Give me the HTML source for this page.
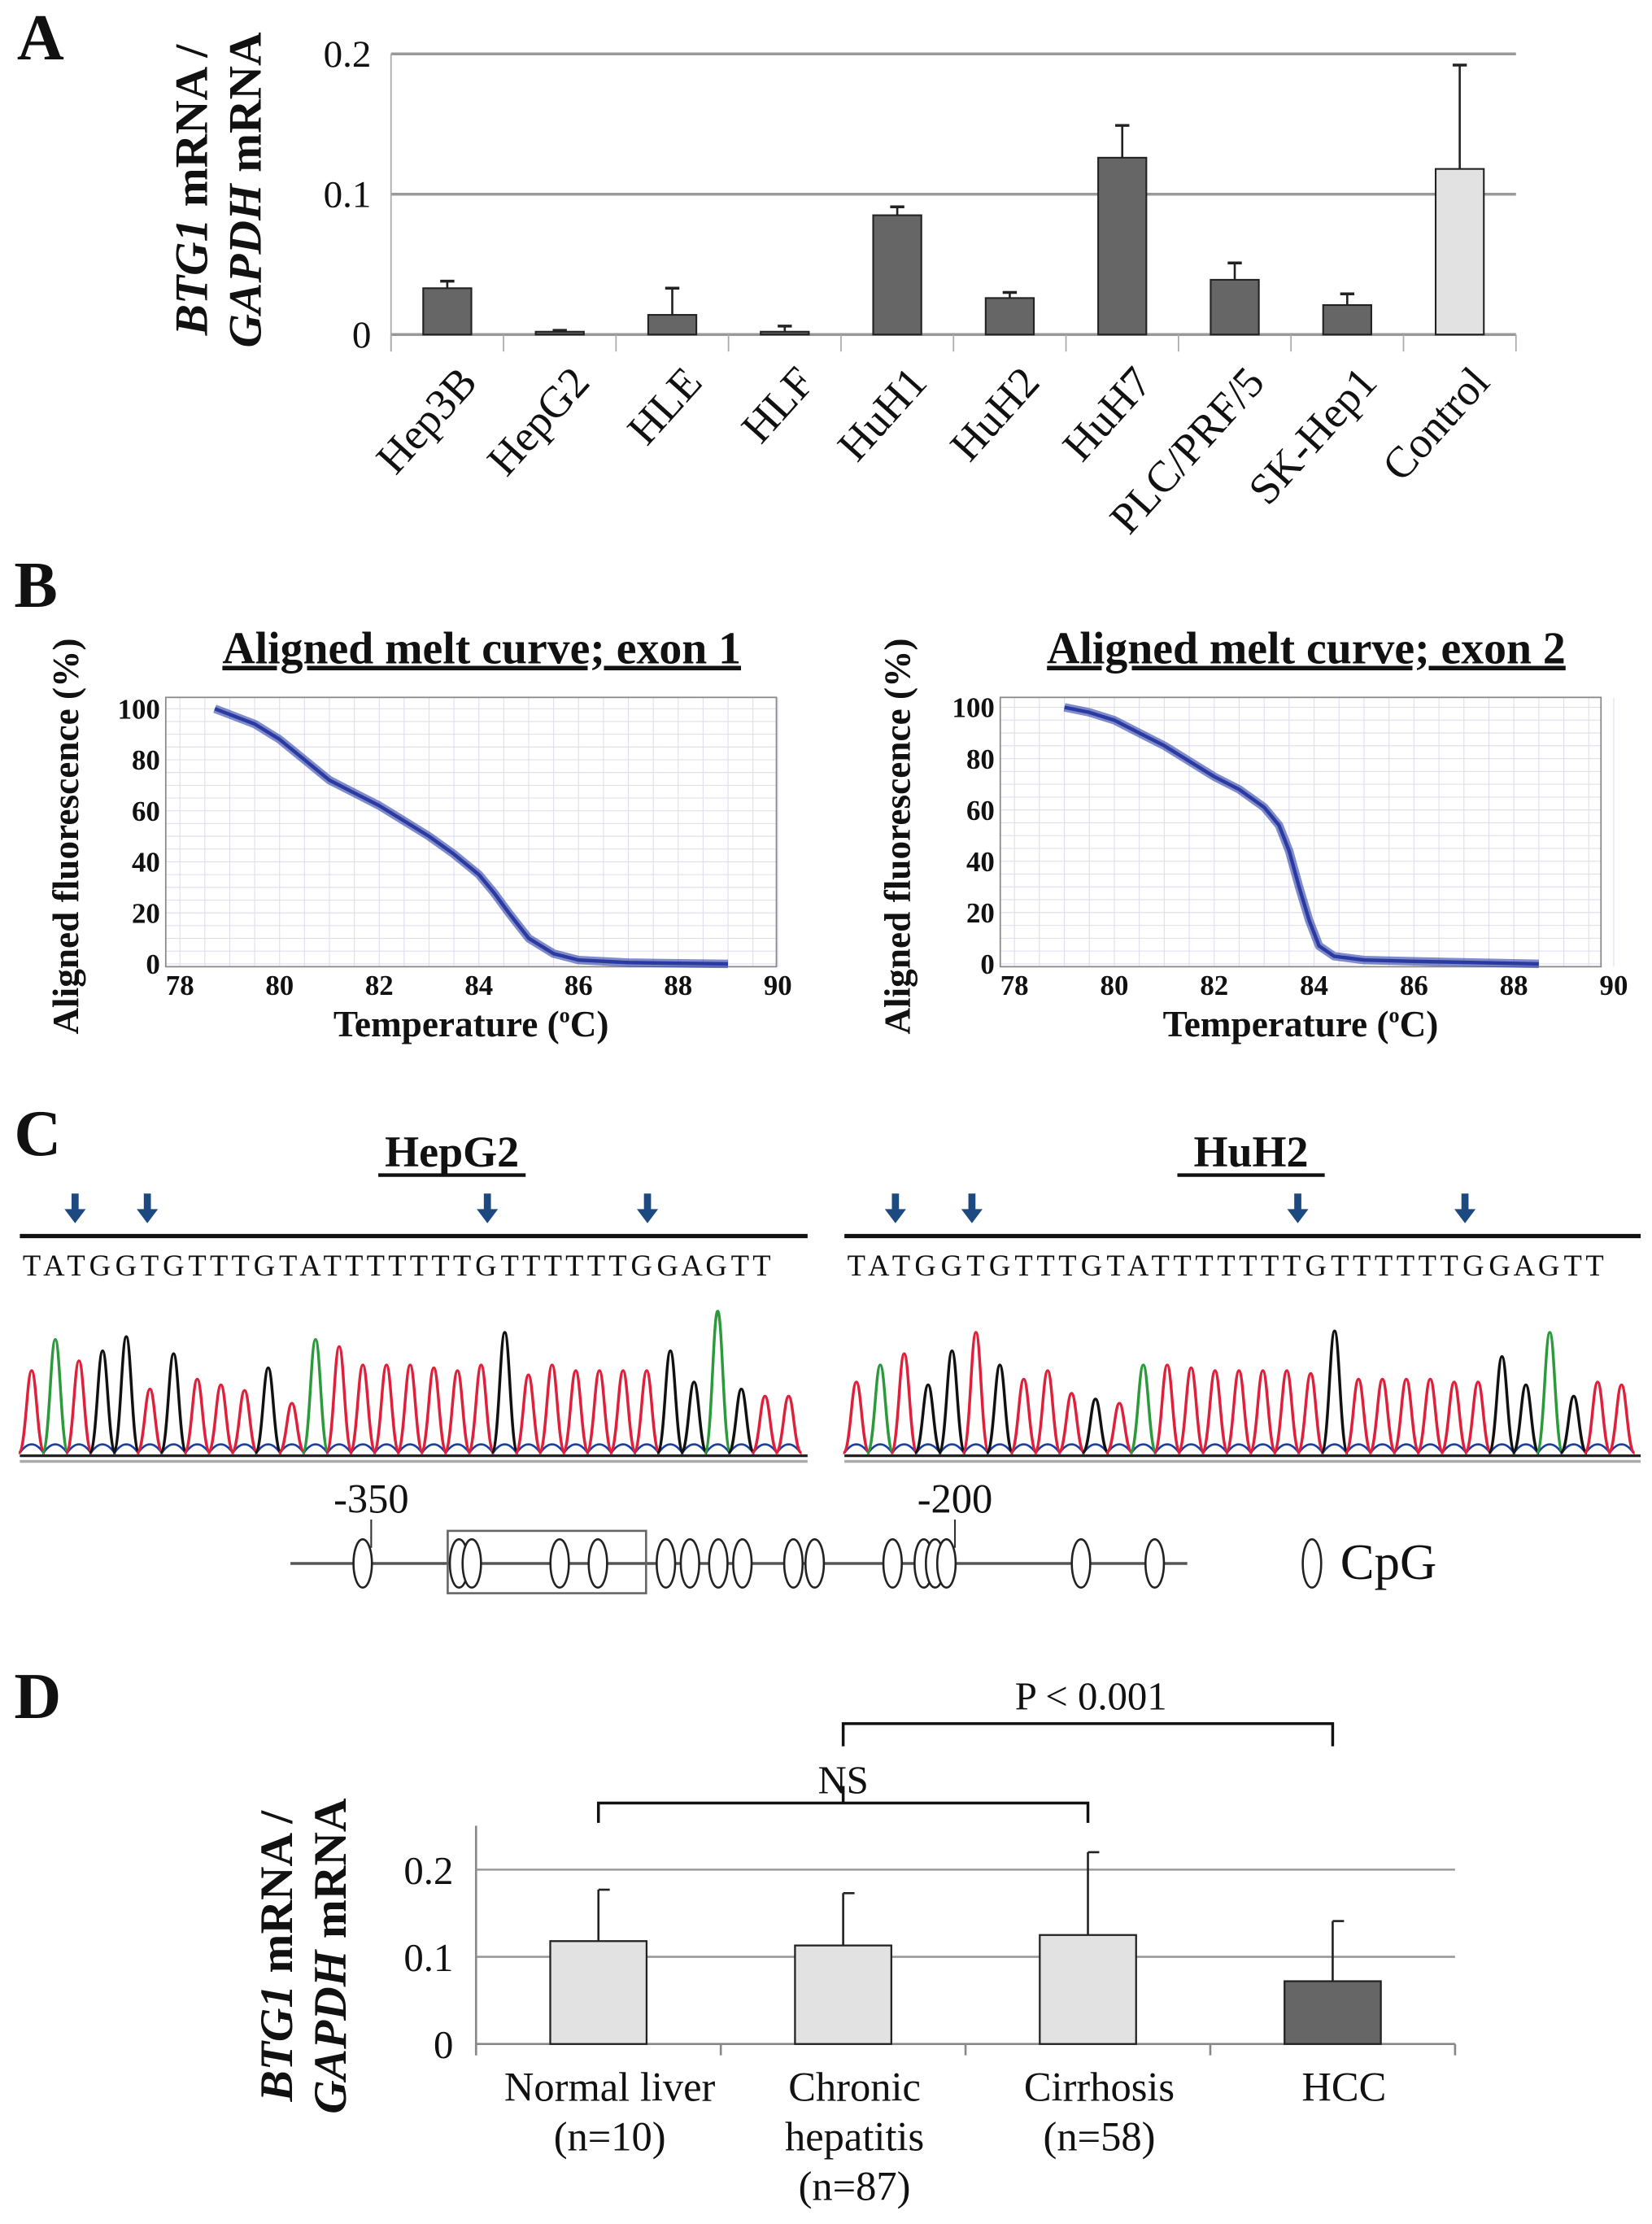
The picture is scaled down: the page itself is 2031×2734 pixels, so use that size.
<!DOCTYPE html>
<html><head><meta charset="utf-8"><style>
html,body{margin:0;padding:0;background:#fff}
svg{display:block}
text{font-family:"Liberation Serif",serif;fill:#111}
</style></head><body>
<svg id="fig" width="2031" height="2734" viewBox="0 0 1166 1569" preserveAspectRatio="none" xmlns="http://www.w3.org/2000/svg">
<g id="A"></g>
<g id="B"></g>
<g id="C"></g>
<g id="D"></g>
</svg>
<script>
// Panel A data
const aCats=["Hep3B","HepG2","HLE","HLF","HuH1","HuH2","HuH7","PLC/PRF/5","SK-Hep1","Control"];
const aVals=[0.033,0.002,0.014,0.002,0.085,0.026,0.126,0.039,0.021,0.118];
const aErr=[0.038,0.003,0.033,0.006,0.091,0.030,0.149,0.051,0.029,0.192];
const aTicks=[0,0.1,0.2];
const aTickLabels=["0","0.1","0.2"];
// Panel B data
const bTemps1=[78.7,79.5,80,80.5,81,81.5,82,82.5,83,83.5,84,84.3,84.6,85,85.5,86,87,88,89];
const bFluor1=[100,94,88,80,72,67,62,56,50,43,35,28,20,10,4,1.5,0.5,0.2,0];
const bTemps2=[79,79.5,80,80.5,81,81.5,82,82.5,83,83.3,83.5,83.7,83.9,84.1,84.4,85,86,88.5];
const bFluor2=[100,98,95,90,85,79,73,68,61,54,44,30,17,7,3,1.5,1,0];
const bXTicks=[78,80,82,84,86,88,90];
const bYTicks=[0,20,40,60,80,100];
// Panel C data
const seqHep="TATGGTGTTTGTATTTTTTTGTTTTTTGGAGTT";
const seqHuh="TATGGTGTTTGTATTTTTTTGTTTTTTGGAGTT";
const pkHep=[58,80,65,72,82,45,70,52,48,44,60,35,80,75,62,62,62,60,58,62,85,55,62,58,58,58,58,72,50,100,45,40,40];
const pkHuh=[50,62,70,48,72,85,62,52,58,42,38,35,62,62,60,58,58,58,58,56,86,52,52,52,52,50,50,68,48,85,40,50,48];
const cpgPos=[256,324,333,395,422,470,487,507,524,560,575,630,652,660,668,763,815];
// Panel D data
const dCats=[["Normal liver","(n=10)"],["Chronic","hepatitis","(n=87)"],["Cirrhosis","(n=58)"],["HCC"]];
const dVals=[0.118,0.113,0.125,0.072];
const dErr=[0.177,0.173,0.220,0.141];
const dTicks=[0,0.1,0.2];
const dTickLabels=["0","0.1","0.2"];

const NS="http://www.w3.org/2000/svg";
function mk(p,tag,at,txt){const e=document.createElementNS(NS,tag);for(const k in at)e.setAttribute(k,at[k]);if(txt!==undefined)e.textContent=txt;p.appendChild(e);return e;}

// ---------- Panel A ----------
(function(){
const g=document.getElementById('A');
const x0=276,x1=1070,y0=236,ySc=v=>y0-v*990;const band=(x1-x0)/aCats.length;
let t=mk(g,'text',{x:12,y:42,'font-size':46,'font-weight':'bold'},'A');

aTicks.forEach((v,i)=>{
 let l=mk(g,'line',{x1:x0,x2:x1,y1:ySc(v),y2:ySc(v),stroke:'#999','stroke-width':2});
 
 let tt=mk(g,'text',{x:262,y:ySc(v)+9,'font-size':27,'text-anchor':'end'},aTickLabels[i]);
 
});
mk(g,'line',{x1:x0,x2:x0,y1:38,y2:248,stroke:'#aaa','stroke-width':1});
for(let i=0;i<=aCats.length;i++)mk(g,'line',{x1:x0+i*band,x2:x0+i*band,y1:y0,y2:248,stroke:'#aaa','stroke-width':1});
aCats.forEach((c,i)=>{
 const cx=x0+band*(i+0.5),w=34;
 let e=mk(g,'line',{x1:cx,x2:cx,y1:ySc(aErr[i]),y2:ySc(aVals[i]),stroke:'#222','stroke-width':1.5});
 
 mk(g,'line',{x1:cx-5,x2:cx+5,y1:ySc(aErr[i]),y2:ySc(aErr[i]),stroke:'#222','stroke-width':2});
 let r=mk(g,'rect',{x:cx-w/2,y:ySc(aVals[i]),width:w,height:y0-ySc(aVals[i]),fill:i==9?'#e2e2e2':'#666',stroke:'#222','stroke-width':1.2});
 
 let lb=mk(g,'text',{x:cx+6,y:256,'font-size':31,'text-anchor':'end',transform:`rotate(-48 ${cx+6} 256)`,'dominant-baseline':'hanging'},c);
 
});
[["BTG1",146],["GAPDH",184]].forEach(([n,x],k)=>{
 let tx=mk(g,'text',{x:x,y:134,'font-size':33,'font-weight':'bold','text-anchor':'middle',transform:`rotate(-90 ${x} 134)`});
 
 mk(tx,'tspan',{'font-style':'italic'},n);mk(tx,'tspan',{},k==0?' mRNA /':' mRNA');
});
})();

// ---------- Panel B ----------
function melt(g,L,R,T,B,x0px,x1px,y100,y0px,temps,fl,title,tx,ax){
 const xs=v=>x0px+(v-78)/12*(x1px-x0px), ys=v=>y0px-(v/100)*(y0px-y100);
 for(let v=78;v<=90;v+=0.5){mk(g,'line',{x1:xs(v),x2:xs(v),y1:T,y2:B,stroke:'#dde','stroke-width':0.6});}
 for(let v=0;v<=100;v+=5){mk(g,'line',{x1:L,x2:R,y1:ys(v),y2:ys(v),stroke:'#dde','stroke-width':0.6});}
 let box=mk(g,'rect',{x:L,y:T,width:R-L,height:B-T,fill:'none',stroke:'#888','stroke-width':1});
 
 bXTicks.forEach(v=>{let t=mk(g,'text',{x:xs(v),y:B+20,'font-size':20,'font-weight':'bold','text-anchor':'middle'},String(v));
  });
 bYTicks.forEach(v=>{let t=mk(g,'text',{x:L-4,y:ys(v)+7,'font-size':20,'font-weight':'bold','text-anchor':'end'},String(v));
  });
 const d=temps.map((t,i)=>(i?'L':'M')+xs(t).toFixed(1)+' '+ys(fl[i]).toFixed(1)).join(' ');
 mk(g,'path',{d:d,fill:'none',stroke:'#2b3fa8','stroke-width':6,'stroke-linejoin':'round',opacity:0.6});
 let p=mk(g,'path',{d:d,fill:'none',stroke:'#2a3aa0','stroke-width':2.5,'stroke-linejoin':'round'});
 
 let ti=mk(g,'text',{x:tx,y:468,'font-size':32,'font-weight':'bold','text-anchor':'middle','text-decoration':'underline'},title);
 
 let xt=mk(g,'text',{x:(L+R)/2,y:731,'font-size':26,'font-weight':'bold','text-anchor':'middle'});
 
 mk(xt,'tspan',{},'Temperature (');mk(xt,'tspan',{'font-size':15,dy:-10},'o');mk(xt,'tspan',{dy:10},'C)');
 let yt=mk(g,'text',{x:ax,y:590,'font-size':26,'font-weight':'bold','text-anchor':'middle',transform:`rotate(-90 ${ax} 590)`},'Aligned fluorescence (%)');
 
}
(function(){
const g=document.getElementById('B');
let t=mk(g,'text',{x:10,y:428,'font-size':46,'font-weight':'bold'},'B');

melt(g,117,548,492,682,127,549,500,680,bTemps1,bFluor1,'Aligned melt curve; exon 1',340,55);
melt(g,706,1130,492,682,716,1139,499,680,bTemps2,bFluor2,'Aligned melt curve; exon 2',922,642);
})();

// ---------- Panel C ----------
(function(){
const g=document.getElementById('C');
let t=mk(g,'text',{x:10,y:815,'font-size':46,'font-weight':'bold'},'C');

const col={A:'#2a9a3a',C:'#1a3fa0',G:'#111',T:'#e0203a'};
[[14,570,'HepG2',319,seqHep,pkHep,[53,104,344,457]],[596,1158,'HuH2',883,seqHuh,pkHuh,[632,686,916,1034]]].forEach(([L,R,name,cx,seq,pk,arr])=>{
 let ti=mk(g,'text',{x:cx,y:823,'font-size':31,'font-weight':'bold','text-anchor':'middle'},name);
 
 mk(g,'line',{x1:cx-52,x2:cx+52,y1:829,y2:829,stroke:'#111','stroke-width':2.5});
 arr.forEach(x=>{let a=mk(g,'path',{d:`M${x-2.5} 842 h5 v11 h5 l-7.5 10 l-7.5 -10 h5z`,fill:'#1c4a80'});
  });
 mk(g,'line',{x1:L,x2:R,y1:872,y2:872,stroke:'#111','stroke-width':3});
 let sq=mk(g,'text',{x:L+2,y:900,'font-size':21,textLength:R-L-28,lengthAdjust:'spacing'},seq.split('').join(' '));
 
 const n=seq.length,step=(R-L)/(n+0.3),base=1025,H=100;
 let d='';for(let i=0;i<n;i++){const x=L+step*(i+0.5);d+=`M${x-step/2} ${base} Q${x} ${base-12} ${x+step/2} ${base} `;}
 mk(g,'path',{d:d,fill:'none',stroke:'#1a3fa0','stroke-width':1.5});
 seq.split('').forEach((b,i)=>{
  const x=L+step*(i+0.5),h=pk[i]/100*H;
  let p=mk(g,'path',{d:`M${x-step*0.55} ${base} C${x-step*0.25} ${base} ${x-step*0.2} ${base-h} ${x} ${base-h} C${x+step*0.2} ${base-h} ${x+step*0.25} ${base} ${x+step*0.55} ${base}`,fill:'none',stroke:col[b],'stroke-width':2});
  
 });
 mk(g,'line',{x1:L,x2:R,y1:base+2,y2:base+2,stroke:'#222','stroke-width':2});
 mk(g,'line',{x1:L,x2:R,y1:base+6,y2:base+6,stroke:'#aaa','stroke-width':2});
});
mk(g,'line',{x1:205,x2:838,y1:1103,y2:1103,stroke:'#555','stroke-width':2});
let bx=mk(g,'rect',{x:316,y:1080,width:140,height:44,fill:'none',stroke:'#666','stroke-width':1.5});

[[262,'-350'],[674,'-200']].forEach(([x,l])=>{mk(g,'line',{x1:x,x2:x,y1:1072,y2:1092,stroke:'#333','stroke-width':1.2});
 let tt=mk(g,'text',{x:x,y:1067,'font-size':29,'text-anchor':'middle'},l);});
cpgPos.forEach(x=>{let e=mk(g,'ellipse',{cx:x,cy:1103,rx:6.5,ry:17,fill:'#fff',stroke:'#222','stroke-width':1.5});
 });
mk(g,'ellipse',{cx:926,cy:1103,rx:6.5,ry:17,fill:'#fff',stroke:'#222','stroke-width':1.5});
let lg=mk(g,'text',{x:946,y:1114,'font-size':36},'CpG');
})();

// ---------- Panel D ----------
(function(){
const g=document.getElementById('D');
let t=mk(g,'text',{x:10,y:1212,'font-size':46,'font-weight':'bold'},'D');

const x0=336,x1=1027,y0=1442,ySc=v=>y0-v*615,band=(x1-x0)/dCats.length;
dTicks.forEach((v,i)=>{
 if(i>0)mk(g,'line',{x1:x0,x2:x1,y1:ySc(v),y2:ySc(v),stroke:'#999','stroke-width':1.5});
 let tt=mk(g,'text',{x:320,y:ySc(v)+10,'font-size':28,'text-anchor':'end'},dTickLabels[i]);
 
});
mk(g,'line',{x1:x0,x2:x0,y1:1288,y2:1450,stroke:'#888','stroke-width':1.5});
mk(g,'line',{x1:x0,x2:x1,y1:y0,y2:y0,stroke:'#888','stroke-width':1.5});
for(let i=0;i<=dCats.length;i++)mk(g,'line',{x1:x0+i*band,x2:x0+i*band,y1:y0,y2:1450,stroke:'#888','stroke-width':1.5});
const centers=[];
dCats.forEach((c,i)=>{
 const cx=x0+band*(i+0.5),w=68;centers.push(cx);
 mk(g,'line',{x1:cx,x2:cx,y1:ySc(dErr[i]),y2:ySc(dVals[i]),stroke:'#222','stroke-width':1.5});
 mk(g,'line',{x1:cx,x2:cx+8,y1:ySc(dErr[i]),y2:ySc(dErr[i]),stroke:'#222','stroke-width':1.5});
 let r=mk(g,'rect',{x:cx-w/2,y:ySc(dVals[i]),width:w,height:y0-ySc(dVals[i]),fill:i==3?'#666':'#e2e2e2',stroke:'#222','stroke-width':1.3});
 
 c.forEach((ln,k)=>{let tt=mk(g,'text',{x:cx+8,y:1482+k*35,'font-size':29,'text-anchor':'middle'},ln);
  });
});
let b1=mk(g,'path',{d:`M${centers[0]} 1286 V1272 H${centers[2]} V1286 M${centers[1]} 1272 V1260`,fill:'none',stroke:'#111','stroke-width':2});

let ns=mk(g,'text',{x:centers[1],y:1265,'font-size':28,'text-anchor':'middle'},'NS');
let b2=mk(g,'path',{d:`M${centers[1]} 1232 V1216 H${centers[3]} V1232`,fill:'none',stroke:'#111','stroke-width':2});

let pl=mk(g,'text',{x:770,y:1206,'font-size':28,'text-anchor':'middle'},'P < 0.001');
[["BTG1",206],["GAPDH",244]].forEach(([n,x],k)=>{
 let tx=mk(g,'text',{x:x,y:1380,'font-size':33,'font-weight':'bold','text-anchor':'middle',transform:`rotate(-90 ${x} 1380)`});
 
 mk(tx,'tspan',{'font-style':'italic'},n);mk(tx,'tspan',{},k==0?' mRNA /':' mRNA');
});
})();
</script>
</body></html>
